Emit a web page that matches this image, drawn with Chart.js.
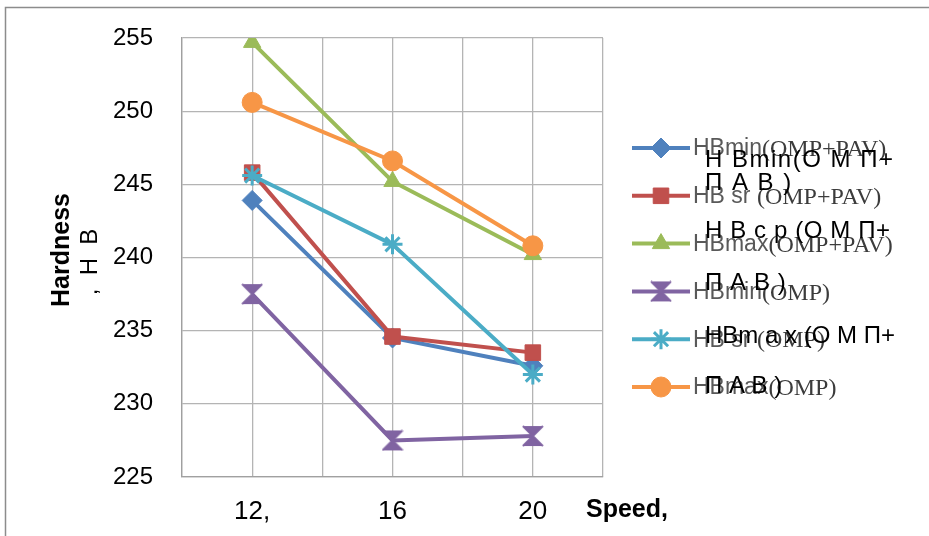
<!DOCTYPE html>
<html>
<head>
<meta charset="utf-8">
<script src="https://cdn.jsdelivr.net/npm/chart.js@4.4.1/dist/chart.umd.min.js"></script>
<style>
  html, body { margin: 0; padding: 0; background: #fff; }
  #wrap { width: 929px; height: 536px; }
</style>
</head>
<body>
<div id="wrap"><canvas id="chart" width="929" height="536"></canvas></div>
<script>
// Data
const speeds = [12, 16, 20];
const speedLabels = ['12,', '16', '20'];
const yTicks = [225, 230, 235, 240, 245, 250, 255];

const seriesNames = [
  'HBmin(OMP+PAV)', 'HB sr (OMP+PAV)', 'HBmax(OMP+PAV)',
  'HBmin(OMP)', 'HB sr (OMP)', 'HBmax(OMP)'
];
// overlapped Russian labels that show in the legend area
const ruLabels = [
  ['Н Вmin(О М П+', 'П А В )'],
  ['Н В с р (О М П+', 'П А В )'],
  ['НВm a x (О М П+', 'П А В )']
];

const hbMinOmpPav = [243.9, 234.5, 232.6];
const hbSrOmpPav = [245.8, 234.6, 233.5];
const hbMaxOmpPav = [254.7, 245.2, 240.2];
const hbMinOmp = [237.5, 227.5, 227.8];
const hbSrOmp = [245.6, 240.9, 232.0];
const hbMaxOmp = [250.6, 246.6, 240.8];

const seriesValues = [hbMinOmpPav, hbSrOmpPav, hbMaxOmpPav, hbMinOmp, hbSrOmp, hbMaxOmp];
const colors = ['#4F81BD', '#C0504D', '#9BBB59', '#8064A2', '#4BACC6', '#F79646'];

// hourglass marker like the office "x" symbol
function hourglass(color) {
  const c = document.createElement('canvas');
  c.width = 22; c.height = 22;
  const g = c.getContext('2d');
  g.fillStyle = color;
  g.beginPath();
  g.moveTo(1, 1); g.lineTo(21, 1); g.lineTo(11, 11);
  g.lineTo(21, 21); g.lineTo(1, 21); g.lineTo(11, 11);
  g.closePath();
  g.fill();
  g.strokeStyle = color;
  g.lineWidth = 2;
  g.beginPath();
  g.moveTo(1, 1); g.lineTo(21, 21);
  g.moveTo(21, 1); g.lineTo(1, 21);
  g.stroke();
  return c;
}

const markers = ['rectRot', 'rect', 'triangle', hourglass(colors[3]), 'star', 'circle'];

const datasets = seriesValues.map((vals, i) => ({
  label: seriesNames[i],
  data: vals.map((v, j) => ({ x: speeds[j], y: v })),
  borderColor: colors[i],
  backgroundColor: colors[i],
  borderWidth: 4,
  pointStyle: markers[i],
  pointRadius: markers[i] === 'rect' ? 11 : 10,
  pointBorderWidth: markers[i] === 'star' ? 3 : 1,
  pointBorderColor: colors[i],
  pointBackgroundColor: colors[i],
  tension: 0,
  order: seriesValues.length - i
}));

// titles, frame and the hand-made legend
const decorPlugin = {
  id: 'decor',
  afterDraw(chart) {
    const ctx = chart.ctx;
    ctx.save();

    // outer frame
    ctx.strokeStyle = '#8c8c8c';
    ctx.lineWidth = 1.5;
    ctx.strokeRect(5.5, 7.5, 1000, 1000);

    // y title
    ctx.fillStyle = '#000';
    ctx.textAlign = 'center';
    ctx.textBaseline = 'middle';
    ctx.save();
    ctx.translate(62, 250);
    ctx.rotate(-Math.PI / 2);
    ctx.font = 'bold 25px "Liberation Sans", Arial, sans-serif';
    ctx.fillText('Hardness', 0, 0);
    ctx.restore();
    ctx.save();
    ctx.translate(90, 262);
    ctx.rotate(-Math.PI / 2);
    ctx.font = '24px "Liberation Sans", Arial, sans-serif';
    ctx.fillText(',  Н  В', 0, 0);
    ctx.restore();

    // x title
    ctx.textAlign = 'left';
    ctx.font = 'bold 25px "Liberation Sans", Arial, sans-serif';
    ctx.fillText('Speed,', 586, 510);

    // legend
    const lx = 632, ly = 148, step = 47.8;
    chart.data.datasets.forEach((ds, i) => {
      const y = ly + i * step;
      ctx.strokeStyle = ds.borderColor;
      ctx.fillStyle = ds.backgroundColor;
      ctx.lineWidth = 4;
      ctx.beginPath();
      ctx.moveTo(lx, y);
      ctx.lineTo(lx + 58, y);
      ctx.stroke();
      ctx.lineWidth = ds.pointBorderWidth;
      Chart.helpers.drawPoint(ctx, {
        pointStyle: ds.pointStyle,
        radius: ds.pointRadius,
        rotation: 0,
        borderWidth: ds.pointBorderWidth
      }, lx + 29, y);

      const name = ds.label;
      const cut = name.indexOf('(');
      const head = name.slice(0, cut);
      const tail = name.slice(cut);
      ctx.textBaseline = 'middle';
      ctx.font = '23px "Liberation Sans", Arial, sans-serif';
      ctx.fillStyle = '#595959';
      ctx.fillText(head, lx + 61, y + 1);
      const w = ctx.measureText(head).width;
      ctx.font = '24px "Liberation Serif", "Times New Roman", serif';
      ctx.fillStyle = '#3c3c3c';
      ctx.fillText(tail, lx + 61 + w, y + 2);
    });

    // overlapping Russian captions
    ctx.fillStyle = '#000';
    ctx.font = '24px "Liberation Sans", Arial, sans-serif';
    ctx.textBaseline = 'alphabetic';
    const ruTop = [167, 238, 343];
    const ruGap = [23, 52, 50];
    const ruSpacing = ['1.5px', '0.6px', '0px'];
    ruLabels.forEach((pair, i) => {
      ctx.letterSpacing = ruSpacing[i];
      ctx.fillText(pair[0], 705, ruTop[i]);
      ctx.fillText(pair[1], 705, ruTop[i] + ruGap[i]);
    });
    ctx.letterSpacing = '0px';

    ctx.restore();
  }
};

new Chart(document.getElementById('chart'), {
  type: 'line',
  data: { datasets },
  options: {
    responsive: false,
    animation: false,
    layout: { padding: { left: 0, right: 326, top: 38, bottom: 0 } },
    plugins: {
      legend: { display: false },
      tooltip: { enabled: false }
    },
    scales: {
      x: {
        type: 'linear',
        min: 10,
        max: 22,
        afterFit: s => {
          s.height = 59;
          s.paddingLeft = 0;
          s.paddingRight = 0;
        },
        afterBuildTicks: s => {
          s.ticks = [10, 12, 14, 16, 18, 20, 22].map(v => ({ value: v }));
        },
        grid: { color: '#b4b4b4', lineWidth: 1.3, drawTicks: false },
        border: { color: '#a0a0a0', width: 1.3 },
        ticks: {
          padding: 19,
          color: '#000',
          maxRotation: 0,
          autoSkip: false,
          font: { family: '"Liberation Sans", Arial, sans-serif', size: 26 },
          callback: v => {
            const k = speeds.indexOf(v);
            return k >= 0 ? speedLabels[k] : '';
          }
        }
      },
      y: {
        min: yTicks[0],
        max: yTicks[yTicks.length - 1],
        afterFit: s => {
          s.width = 182;
          s.paddingTop = 0;
          s.paddingBottom = 0;
        },
        afterBuildTicks: s => { s.ticks = yTicks.map(v => ({ value: v })); },
        grid: { color: '#b4b4b4', lineWidth: 1.3, drawTicks: false },
        border: { color: '#a0a0a0', width: 1.3 },
        ticks: {
          padding: 29,
          color: '#000',
          font: { family: '"Liberation Sans", Arial, sans-serif', size: 24 }
        }
      }
    }
  },
  plugins: [decorPlugin]
});
</script>
</body>
</html>
